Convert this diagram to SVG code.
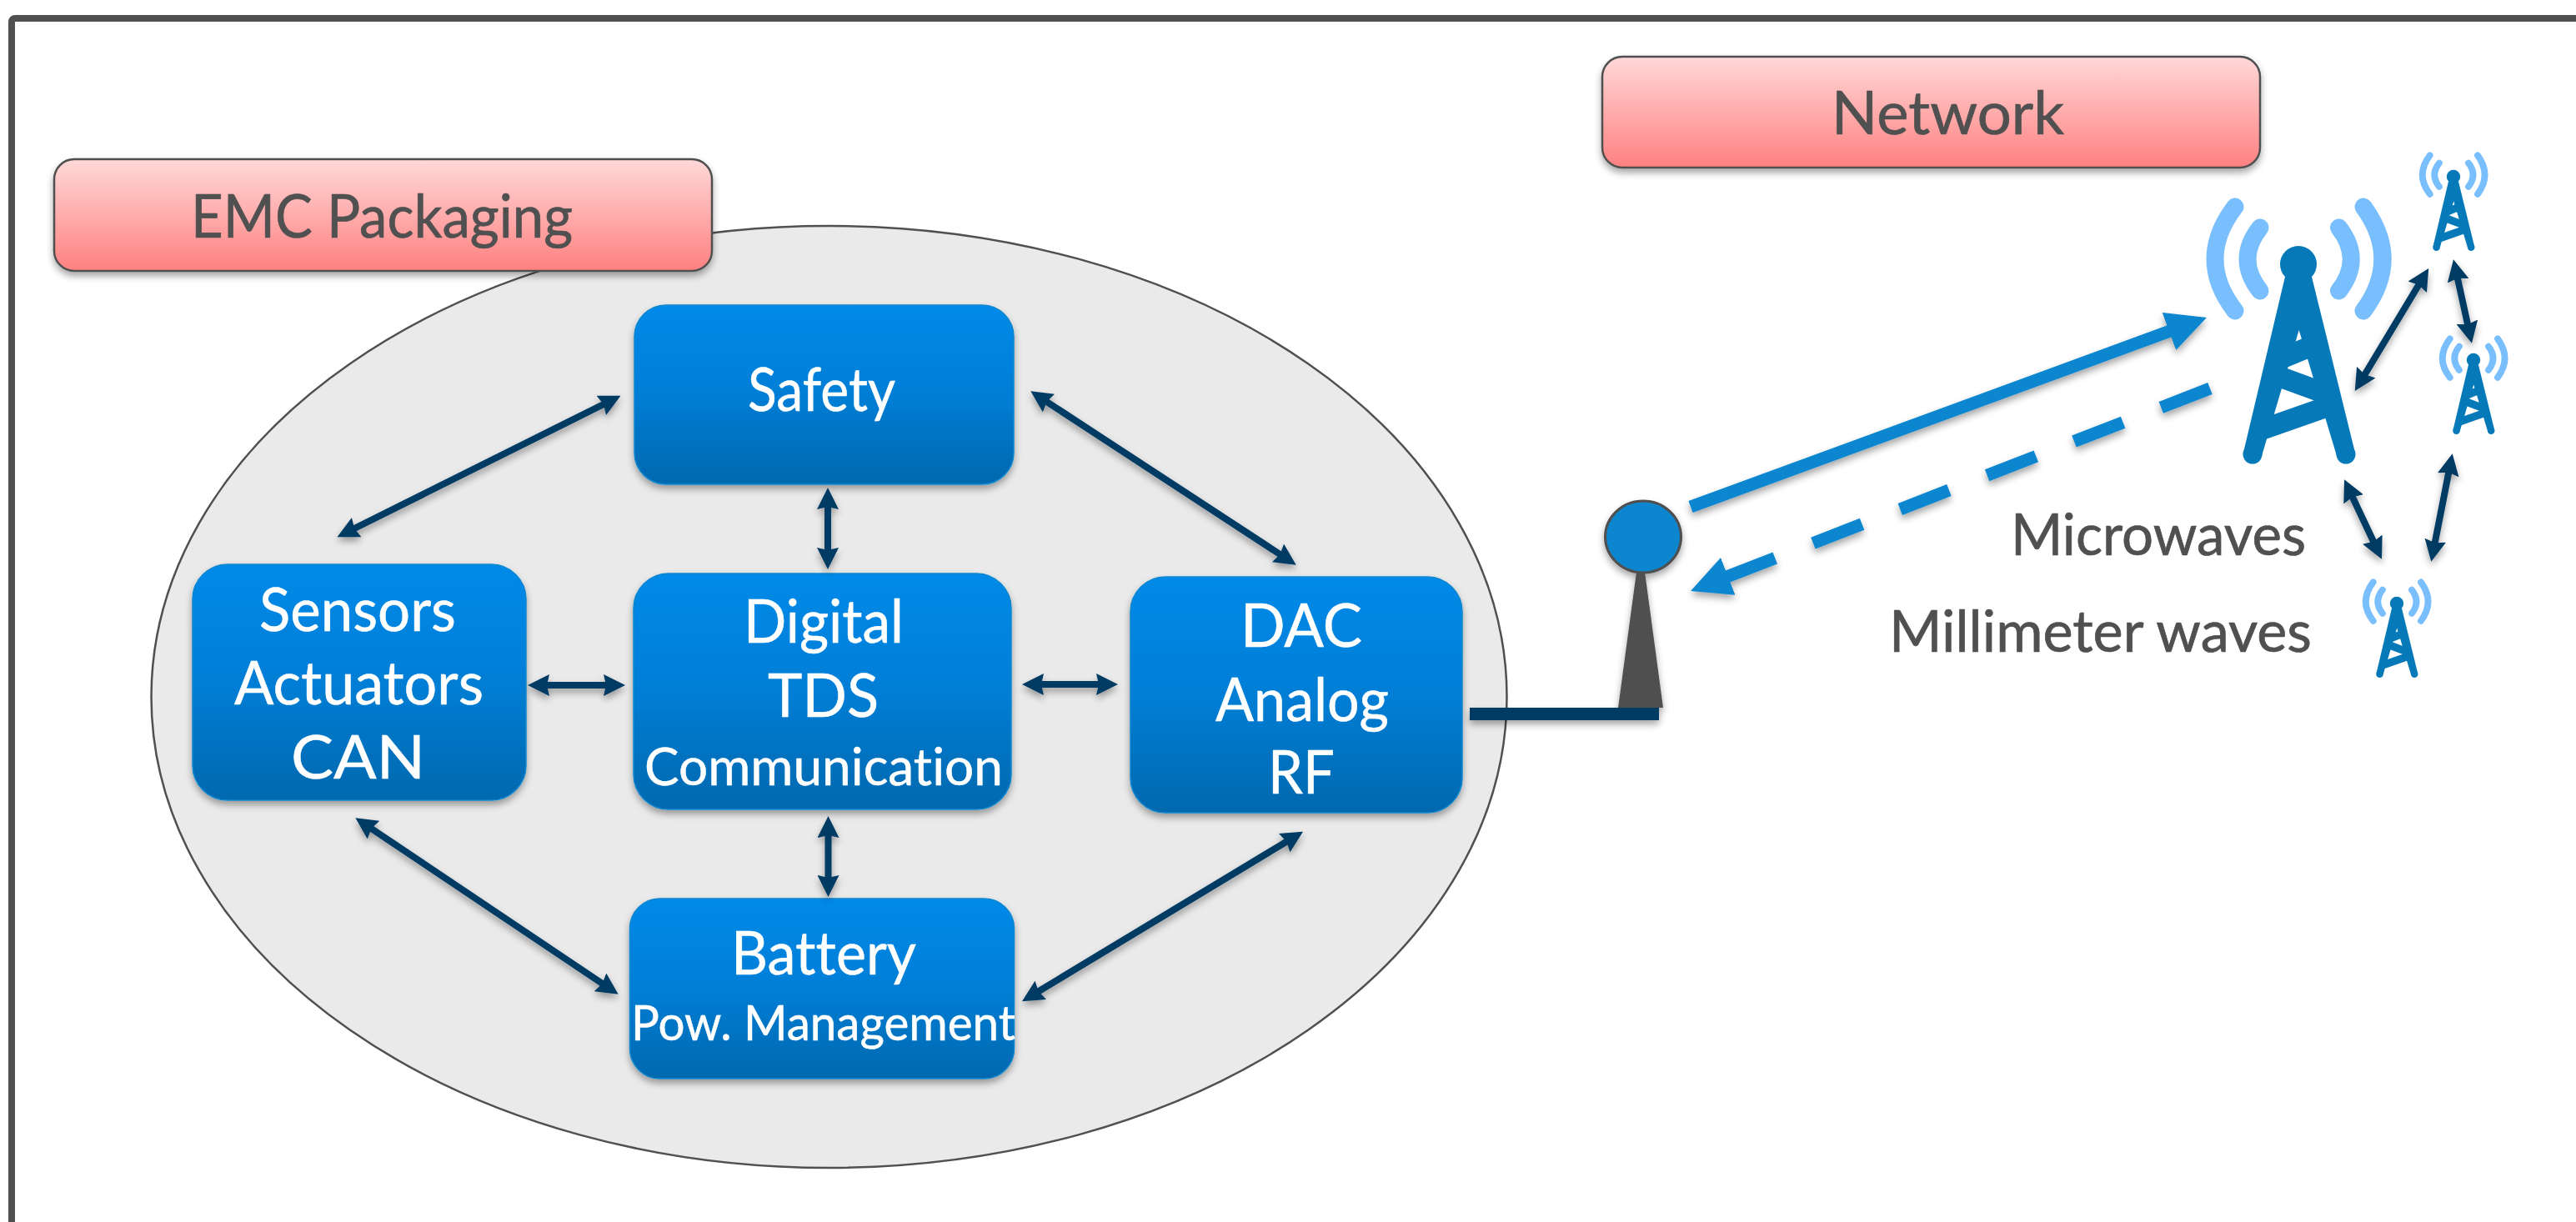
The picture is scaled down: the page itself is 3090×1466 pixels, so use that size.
<svg xmlns="http://www.w3.org/2000/svg" xmlns:xlink="http://www.w3.org/1999/xlink" width="3090" height="1466" viewBox="0 0 3090 1466">
<style>
text{font-family:"Lato","Open Sans","Liberation Sans",sans-serif;font-variant-ligatures:none}
.w{fill:#fff;stroke:#fff;stroke-width:.5;font-size:71px}
.g{fill:#505050;stroke:#505050;stroke-width:.7;font-size:71px}
.n{stroke:#0a86d0;stroke-width:1.5;filter:url(#sh);fill:url(#blue)}
.l{fill:url(#red);stroke:#505050;stroke-width:2.5;filter:url(#sh)}
.a{fill:none;stroke:#053a63;stroke-width:8;marker-start:url(#h);marker-end:url(#h)}
</style>
<defs>
<linearGradient id="blue" x1="0" y1="0" x2="0" y2="1"><stop offset="0" stop-color="#008ae9"/><stop offset=".5" stop-color="#007ed6"/><stop offset="1" stop-color="#0368ae"/></linearGradient>
<linearGradient id="red" x1="0" y1="0" x2="0" y2="1"><stop offset="0" stop-color="#ffd8d8"/><stop offset="1" stop-color="#ff8080"/></linearGradient>
<filter id="sh" x="-20%" y="-20%" width="140%" height="140%"><feDropShadow dx="0" dy="5" stdDeviation="4" flood-color="#000" flood-opacity=".35"/></filter>
<marker id="h" markerUnits="userSpaceOnUse" markerWidth="26" markerHeight="26" viewBox="0 0 26 26" refX="12" refY="13" orient="auto-start-reverse"><path d="M0,0 L26,13 L0,26 L3,13 Z" fill="#053a63"/></marker>
<marker id="big" markerUnits="userSpaceOnUse" markerWidth="48" markerHeight="48" viewBox="0 0 48 48" refX="18" refY="24" orient="auto"><path d="M0,0 L48,24 L0,48 L0,0 Z" fill="#0e86d0"/></marker>
<g id="tower">
<g fill="none" stroke="#79befd" stroke-width="21" stroke-linecap="round">
<path d="M-76,-69 Q-124,-6 -76,56"/><path d="M-46,-44 Q-76,-6 -46,32"/><path d="M78,-69 Q124,-6 78,56"/><path d="M48.5,-44 Q78,-6 48.5,32"/>
</g>
<g fill="#0679b8"><circle cx="0" cy="0" r="22"/>
<path d="M-16,15 L16,15 L68,226 L46,230 L0.7,79 L-44,230 L-66,226 Z"/>
<circle cx="-55" cy="228" r="11.5"/><circle cx="57" cy="228" r="11.5"/></g>
<g stroke="#0679b8" stroke-width="25" fill="none"><path d="M-22,113.6 L26,94"/><path d="M-28,133 L35,156"/><path d="M-42,197.7 L40,169"/></g>
</g>
</defs>
<rect id="frame" x="14" y="22" width="3120" height="1500" rx="4" fill="#fff" stroke="#505050" stroke-width="8"/>
<g id="packaging"><ellipse cx="994.5" cy="836" rx="813" ry="565" fill="#eaeaea" stroke="#505050" stroke-width="2.5"/></g>
<g id="label-emc"><rect class="l" x="65" y="191" width="789" height="134" rx="24"/><text class="g" x="229" y="285" textLength="458" lengthAdjust="spacingAndGlyphs">EMC Packaging</text></g>
<g id="label-network"><rect class="l" x="1922" y="68" width="789" height="133" rx="24"/><text class="g" x="2197" y="161" textLength="279" lengthAdjust="spacingAndGlyphs">Network</text></g>
<g id="safety"><rect class="n" x="761" y="366" width="455" height="215" rx="38"/><text class="w" x="897" y="493" textLength="177" lengthAdjust="spacingAndGlyphs">Safety</text></g>
<g id="sensors"><rect class="n" x="231" y="677" width="400" height="283" rx="42"/><text class="w" x="311" y="757" textLength="236" lengthAdjust="spacingAndGlyphs">Sensors</text><text class="w" x="281" y="845" textLength="299" lengthAdjust="spacingAndGlyphs">Actuators</text><text class="w" x="349" y="934" textLength="161" lengthAdjust="spacingAndGlyphs">CAN</text></g>
<g id="digital"><rect class="n" x="760" y="688" width="453" height="283" rx="42"/><text class="w" x="892" y="771" textLength="192" lengthAdjust="spacingAndGlyphs">Digital</text><text class="w" x="921" y="860" textLength="133" lengthAdjust="spacingAndGlyphs">TDS</text><text class="w" x="773" y="942" style="font-size:61px" textLength="430" lengthAdjust="spacingAndGlyphs">Communication</text></g>
<g id="dac"><rect class="n" x="1356" y="692" width="398" height="283" rx="42"/><text class="w" x="1488" y="776" textLength="146" lengthAdjust="spacingAndGlyphs">DAC</text><text class="w" x="1458" y="865" textLength="208" lengthAdjust="spacingAndGlyphs">Analog</text><text class="w" x="1521" y="952" textLength="80" lengthAdjust="spacingAndGlyphs">RF</text></g>
<g id="battery"><rect class="n" x="755.5" y="1078" width="461" height="216" rx="36"/><text class="w" x="877" y="1169" textLength="222" lengthAdjust="spacingAndGlyphs">Battery</text><text class="w" x="757" y="1248" style="font-size:59px" textLength="461" lengthAdjust="spacingAndGlyphs">Pow. Management</text></g>
<g id="antenna" filter="url(#sh)"><path d="M1963,686 L1973,686 L1995,849 L1941,849 Z" fill="#505050"/><ellipse cx="1971" cy="644" rx="45.5" ry="43" fill="#0e86d0" stroke="#505050" stroke-width="3"/><rect x="1763" y="849" width="227" height="15" fill="#053a63"/></g>
<g id="main-tower"><use href="#tower" xlink:href="#tower" transform="translate(2757,317)"/></g>
<g id="tower-1"><use href="#tower" xlink:href="#tower" transform="translate(2943,212) scale(.372)"/></g>
<g id="tower-2"><use href="#tower" xlink:href="#tower" transform="translate(2967,432) scale(.372)"/></g>
<g id="tower-3"><use href="#tower" xlink:href="#tower" transform="translate(2875,724) scale(.372)"/></g>
<g id="texts"><text class="g" x="2412" y="666" style="font-size:70px" textLength="354" lengthAdjust="spacingAndGlyphs">Microwaves</text><text class="g" x="2266" y="782" style="font-size:70px" textLength="507" lengthAdjust="spacingAndGlyphs">Millimeter waves</text></g>
<g id="connectors" filter="url(#sh)">
<path class="a" d="M732,481 L417,638"/>
<path class="a" d="M1248,477 L1543,670"/>
<path class="a" d="M993,599 L993,669"/>
<path class="a" d="M993.5,993 L993.5,1062"/>
<path class="a" d="M647,822 L736,822"/>
<path class="a" d="M1240,821 L1327,821"/>
<path class="a" d="M438,989 L730,1185"/>
<path class="a" d="M1551,1005 L1238,1194"/>
<path class="a" d="M2906,334 L2832,457"/>
<path class="a" d="M2946,325 L2962,398"/>
<path class="a" d="M2818,588 L2851,658"/>
<path class="a" d="M2919,660 L2939,558"/>
<path d="M2028,608 L2618.8,391.3" fill="none" stroke="#0e86d0" stroke-width="15" marker-end="url(#big)"/>
<path d="M2651,466 L2056,698" fill="none" stroke="#0e86d0" stroke-width="15" stroke-dasharray="63 49" marker-end="url(#big)"/>
</g>
</svg>
